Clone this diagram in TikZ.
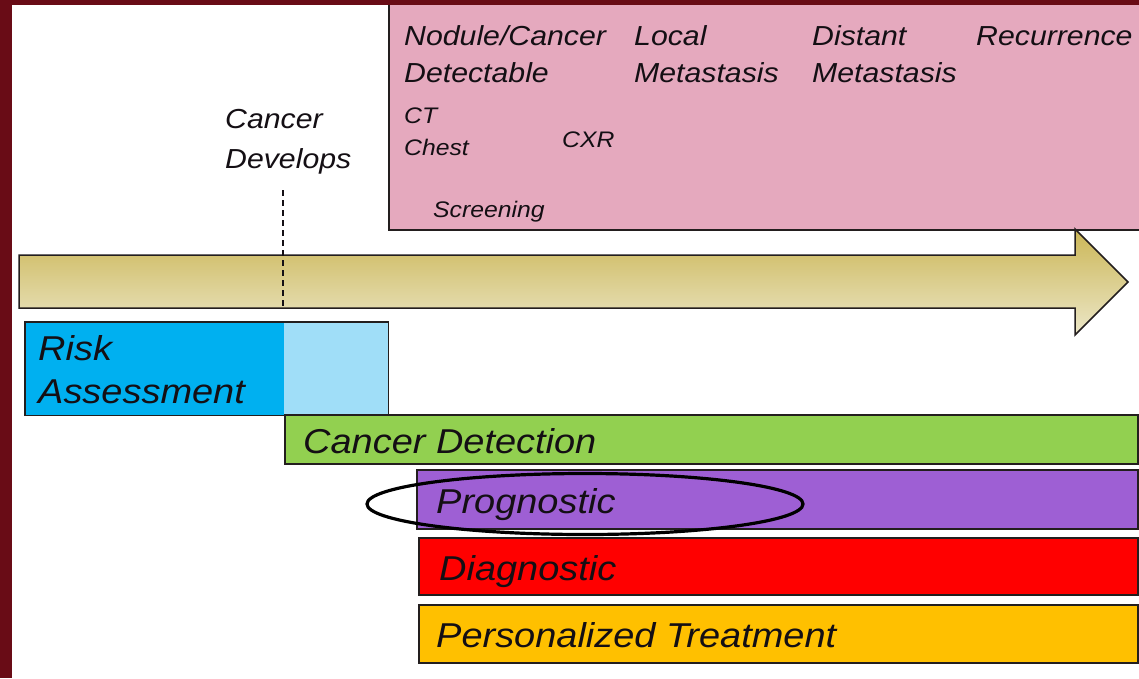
\documentclass[tikz,border=0pt]{standalone}
\usepackage{fontspec}
\newfontfamily\labfont[FakeStretch=1.1]{Liberation Sans}
\usetikzlibrary{shapes.geometric}

\definecolor{slideframe}{RGB}{105,12,22}
\definecolor{stagepink}{RGB}{229,169,190}
\definecolor{arrowtop}{RGB}{203,182,86}
\definecolor{arrowmid}{RGB}{228,220,190}
\definecolor{arrowbot}{RGB}{236,231,200}
\definecolor{riskdark}{RGB}{0,176,240}
\definecolor{risklight}{RGB}{160,222,248}
\definecolor{detectgreen}{RGB}{146,208,80}
\definecolor{progpurple}{RGB}{158,95,212}
\definecolor{diagred}{RGB}{255,0,0}
\definecolor{treatorange}{RGB}{255,192,0}
\definecolor{edge}{RGB}{35,30,30}
\definecolor{ink}{RGB}{20,15,20}

\begin{document}
\begin{tikzpicture}[x=1pt,y=-1pt,
  bar/.style={draw=edge, line width=1.5pt, inner sep=0pt, anchor=north west},
  lbl/.style={inner sep=0pt, anchor=base west, align=left, text=ink},
  bigtext/.style={lbl, font=\labfont\itshape\fontsize{34.5}{43}\selectfont},
  headtext/.style={lbl, font=\labfont\itshape\fontsize{27.5}{37}\selectfont},
  devtext/.style={lbl, font=\labfont\itshape\fontsize{27.5}{40}\selectfont},
  smalltext/.style={lbl, font=\labfont\itshape\fontsize{22.5}{32}\selectfont}]

\useasboundingbox (0,0) rectangle (1139,678);
\clip (0,0) rectangle (1139,678);
\fill[white] (0,0) rectangle (1139,678);

% stages of disease panel
\node[bar, fill=stagepink, minimum width=770pt, minimum height=232pt] (stages) at (388,-3) {};
\node[headtext] (nodule) at (404,82) {Nodule/Cancer\\Detectable};
\node[headtext] (local) at (634,82) {Local\\Metastasis};
\node[headtext] (distant) at (812,82) {Distant\\Metastasis};
\node[headtext] (recur) at (976,45) {Recurrence};
\node[smalltext] (ct) at (404,155) {CT\\Chest};
\node[smalltext] (cxr) at (562,147) {CXR};
\node[smalltext] (screen) at (433,217) {Screening};

% time line arrow
\shade[draw=edge, line width=1.5pt, top color=arrowtop, middle color=arrowmid, bottom color=arrowbot]
  (19,255) -- (1075,255) -- (1075,229) -- (1128,282) -- (1075,335) -- (1075,308) -- (19,308) -- cycle;

% onset marker
\node[devtext] (develops) at (225,168) {Cancer\\Develops};
\coordinate (onsettop) at (283,190);
\coordinate (onsetbot) at (283,306);
\draw[ink, line width=1.3pt, dash pattern=on 6pt off 4pt] (onsettop) -- (onsetbot);

% biomarker application bars
\node[bar, draw=none, fill=riskdark, minimum width=258pt, minimum height=92pt] (riskA) at (25,322) {};
\node[bar, draw=none, fill=risklight, minimum width=104pt, minimum height=92pt] (riskB) at (283,322) {};
\draw[edge, line width=1.5pt] (riskA.north west) rectangle (riskB.south east);
\node[bigtext] (risk) at (38,403) {Risk\\Assessment};

\node[bar, fill=detectgreen, minimum width=853pt, minimum height=49pt] (detect) at (284,414) {};
\node[bigtext] (detectlbl) at (303,453) {Cancer Detection};

\node[bar, fill=progpurple, minimum width=721pt, minimum height=59pt] (prog) at (416,469) {};
\node[bigtext] (proglbl) at (436,513) {Prognostic};

\node[bar, fill=diagred, minimum width=719pt, minimum height=57pt] (diag) at (418,537) {};
\node[bigtext] (diaglbl) at (439,580) {Diagnostic};

\node[bar, fill=treatorange, minimum width=719pt, minimum height=58pt] (treat) at (418,604) {};
\node[bigtext] (treatlbl) at (436,647) {Personalized Treatment};

% highlight around the prognostic bar
\node[ellipse, draw=black, line width=3.2pt, minimum width=436pt, minimum height=61pt, inner sep=0pt] (focus) at (585,504) {};

% slide frame on the left and top
\fill[slideframe] (0,0) rectangle (1139,5);
\fill[slideframe] (0,0) rectangle (12,678);
\end{tikzpicture}
\end{document}
